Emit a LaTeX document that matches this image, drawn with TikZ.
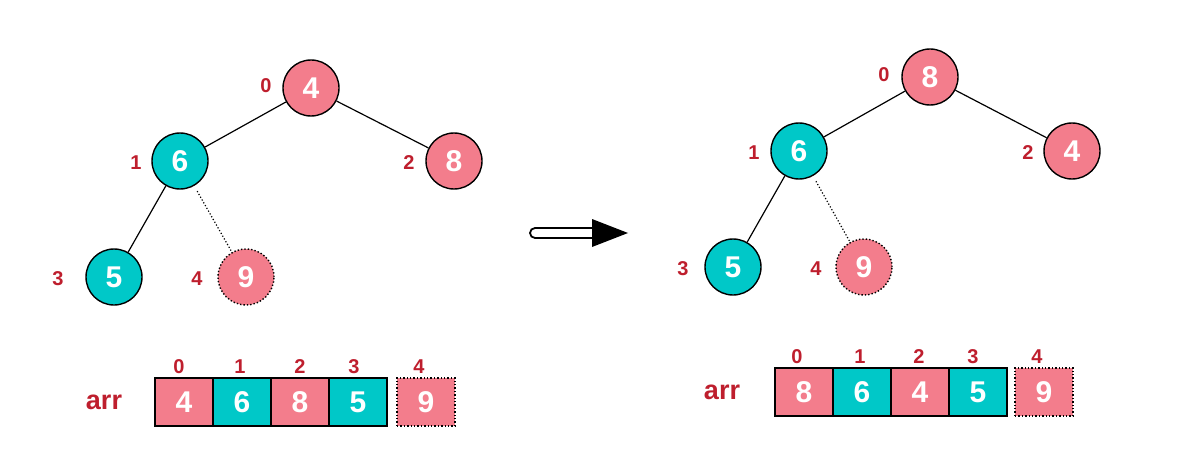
\documentclass[tikz,border=0pt]{standalone}
\usepackage{fontspec}
\setmainfont{Liberation Sans}
\definecolor{pk}{RGB}{243,125,140}
\definecolor{tl}{RGB}{0,200,200}
\definecolor{lb}{RGB}{190,30,45}
\begin{document}
\begin{tikzpicture}[x=1pt,y=-1pt,
  hn/.style={circle, draw=black, line width=1.4pt, minimum size=56pt, inner sep=0pt,
    font=\fontsize{30}{30}\selectfont\bfseries, text=white},
  pkn/.style={hn, fill=pk},
  tln/.style={hn, fill=tl},
  ghost/.style={pkn, dotted},
  idx/.style={font=\fontsize{20}{20}\selectfont\bfseries, text=lb, inner sep=0pt},
  cell/.style={rectangle, draw=black, line width=1.4pt, minimum width=58pt, minimum height=48pt,
    inner sep=0pt, font=\fontsize{30}{30}\selectfont\bfseries, text=white},
  pkc/.style={cell, fill=pk},
  tlc/.style={cell, fill=tl},
  ghostc/.style={pkc, dotted},
  arrlab/.style={font=\fontsize{27}{27}\selectfont\bfseries, text=lb, inner sep=0pt},
  edge/.style={line width=1.2pt},
  dedge/.style={line width=1.2pt, dotted, shorten <=6pt}
]
\useasboundingbox (0,0) rectangle (1186,476);

% ---------- left tree ----------
\node[pkn] (a0) at (311,88) {4};
\node[tln] (a1) at (180,161) {6};
\node[pkn] (a2) at (454,161) {8};
\node[tln] (a3) at (114,277) {5};
\node[ghost] (a4) at (246,277) {9};
\draw[edge] (a0) -- (a1);
\draw[edge] (a0) -- (a2);
\draw[edge] (a1) -- (a3);
\draw[dedge] (a1) -- (a4);
\node[idx] (ai0) at (266,86) {0};
\node[idx] (ai1) at (136,163) {1};
\node[idx] (ai2) at (409,163) {2};
\node[idx] (ai3) at (58,279) {3};
\node[idx] (ai4) at (197,279) {4};

% ---------- left array ----------
\node[arrlab] (aarr) at (104,402) {arr};
\node[pkc] (ac0) at (184,402) {4};
\node[tlc] (ac1) at (242,402) {6};
\node[pkc] (ac2) at (300,402) {8};
\node[tlc] (ac3) at (358,402) {5};
\node[ghostc] (ac4) at (426,402) {9};
\node[idx] (aj0) at (179,367) {0};
\node[idx] (aj1) at (240,367) {1};
\node[idx] (aj2) at (300,367) {2};
\node[idx] (aj3) at (354,367) {3};
\node[idx] (aj4) at (419,367) {4};

% ---------- arrow ----------
\draw[line width=1.8pt, fill=white] (596,228) -- (535,228) arc (270:90:5) -- (596,238);
\fill (592,219) -- (628,233) -- (592,247) -- cycle;

% ---------- right tree ----------
\node[pkn] (b0) at (930,77) {8};
\node[tln] (b1) at (799,151) {6};
\node[pkn] (b2) at (1072,151) {4};
\node[tln] (b3) at (733,267) {5};
\node[ghost] (b4) at (864,267) {9};
\draw[edge] (b0) -- (b1);
\draw[edge] (b0) -- (b2);
\draw[edge] (b1) -- (b3);
\draw[dedge] (b1) -- (b4);
\node[idx] (bi0) at (884,75) {0};
\node[idx] (bi1) at (754,153) {1};
\node[idx] (bi2) at (1028,153) {2};
\node[idx] (bi3) at (683,269) {3};
\node[idx] (bi4) at (816,269) {4};

% ---------- right array ----------
\node[arrlab] (barr) at (722,392) {arr};
\node[pkc] (bc0) at (804,392) {8};
\node[tlc] (bc1) at (862,392) {6};
\node[pkc] (bc2) at (920,392) {4};
\node[tlc] (bc3) at (978,392) {5};
\node[ghostc] (bc4) at (1044,392) {9};
\node[idx] (bj0) at (797,357) {0};
\node[idx] (bj1) at (860,357) {1};
\node[idx] (bj2) at (919,357) {2};
\node[idx] (bj3) at (973,357) {3};
\node[idx] (bj4) at (1037,357) {4};
\end{tikzpicture}
\end{document}
